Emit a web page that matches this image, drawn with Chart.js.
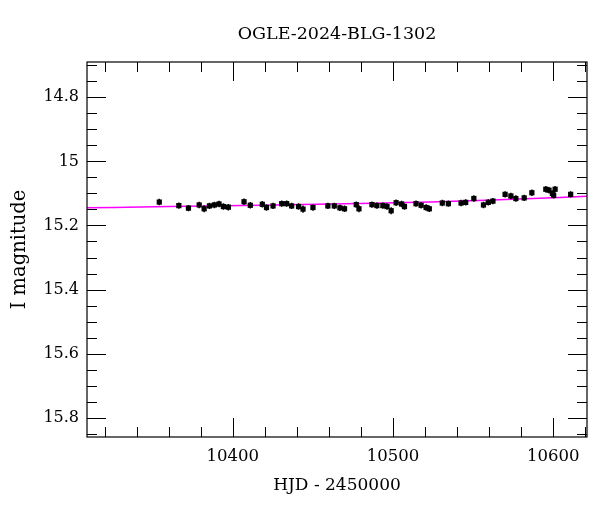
<!DOCTYPE html>
<html>
<head>
<meta charset="utf-8">
<script src="https://cdn.jsdelivr.net/npm/chart.js@4/dist/chart.umd.min.js"></script>
<style>
  html, body { margin: 0; padding: 0; background: #fff; }
  #wrap { width: 600px; height: 512px; }
</style>
</head>
<body>
<div id="wrap"><canvas id="lc"></canvas></div>
<script>
// OGLE light curve, I band
const hjd = [10354.1, 10366.3, 10372.3, 10379.0, 10382.1, 10385.4, 10388.5, 10391.4, 10394.1, 10397.2,
  10407.0, 10410.9, 10418.4, 10421.0, 10425.1, 10430.5, 10433.6, 10436.7, 10441.0, 10443.8,
  10450.0, 10459.3, 10463.3, 10466.8, 10469.7, 10477.0, 10478.7, 10486.8, 10489.9, 10493.6,
  10496.2, 10498.8, 10501.9, 10505.3, 10507.1, 10514.3, 10517.5, 10520.6, 10522.6, 10530.7,
  10534.5, 10542.4, 10545.3, 10550.4, 10556.4, 10559.4, 10562.3, 10569.9, 10573.5, 10576.6,
  10581.8, 10586.6, 10595.3, 10597.3, 10599.4, 10600.2, 10601.1, 10610.8];
const mag = [15.127, 15.138, 15.146, 15.136, 15.148, 15.139, 15.136, 15.133, 15.141, 15.143,
  15.126, 15.137, 15.134, 15.144, 15.139, 15.132, 15.132, 15.139, 15.141, 15.149,
  15.144, 15.139, 15.139, 15.145, 15.148, 15.135, 15.148, 15.135, 15.138, 15.138,
  15.141, 15.154, 15.129, 15.133, 15.141, 15.132, 15.137, 15.144, 15.148, 15.130,
  15.132, 15.130, 15.128, 15.116, 15.136, 15.128, 15.124, 15.103, 15.108, 15.116,
  15.114, 15.098, 15.087, 15.090, 15.100, 15.106, 15.087, 15.103];
const magErr = [0.010, 0.010, 0.010, 0.010, 0.011, 0.010, 0.010, 0.010, 0.010, 0.010,
  0.010, 0.010, 0.010, 0.010, 0.010, 0.010, 0.010, 0.010, 0.010, 0.011,
  0.010, 0.010, 0.010, 0.010, 0.010, 0.010, 0.011, 0.010, 0.010, 0.010,
  0.010, 0.011, 0.010, 0.010, 0.010, 0.010, 0.010, 0.010, 0.010, 0.010,
  0.010, 0.010, 0.010, 0.010, 0.010, 0.010, 0.010, 0.010, 0.010, 0.010,
  0.010, 0.010, 0.010, 0.010, 0.010, 0.010, 0.010, 0.010];

// model curve
const modelHjd = [10309, 10360, 10417, 10470, 10523, 10570, 10621];
const modelMag = [15.145, 15.141, 15.137, 15.132, 15.127, 15.119, 15.109];

const xTicks = [10400, 10500, 10600];
const yTicks = [14.8, 15, 15.2, 15.4, 15.6, 15.8];

const serif = "'DejaVu Serif', serif";

// error bars drawn through the scales
const errorBars = {
  id: 'errorBars',
  afterDatasetsDraw(chart) {
    const { ctx, scales: { x, y } } = chart;
    ctx.save();
    ctx.strokeStyle = '#000';
    ctx.lineWidth = 1.5;
    ctx.beginPath();
    for (let i = 0; i < hjd.length; i++) {
      const px = x.getPixelForValue(hjd[i]);
      ctx.moveTo(px, y.getPixelForValue(mag[i] - magErr[i]));
      ctx.lineTo(px, y.getPixelForValue(mag[i] + magErr[i]));
    }
    ctx.stroke();
    ctx.restore();
  }
};

// box with inward ticks on all four sides
const frame = {
  id: 'frame',
  afterDraw(chart) {
    const { ctx, chartArea: a, scales: { x, y } } = chart;
    ctx.save();
    ctx.strokeStyle = '#000';
    ctx.lineWidth = 1.2;
    ctx.strokeRect(a.left, a.top, a.right - a.left, a.bottom - a.top);
    ctx.lineWidth = 1;
    ctx.beginPath();
    for (let v = 10320; v <= 10620; v += 20) {
      const px = Math.round(x.getPixelForValue(v)) + 0.5;
      const len = v % 100 === 0 ? 19 : 10;
      ctx.moveTo(px, a.bottom); ctx.lineTo(px, a.bottom - len);
      ctx.moveTo(px, a.top); ctx.lineTo(px, a.top + len);
    }
    for (let i = 294; i <= 317; i++) {
      const py = Math.round(y.getPixelForValue(i * 0.05)) + 0.5;
      const len = i % 4 === 0 ? 19 : 10;
      ctx.moveTo(a.left, py); ctx.lineTo(a.left + len, py);
      ctx.moveTo(a.right, py); ctx.lineTo(a.right - len, py);
    }
    ctx.stroke();
    ctx.restore();
  }
};

const pts = hjd.map((t, i) => ({ x: t, y: mag[i] }));
const model = modelHjd.map((t, i) => ({ x: t, y: modelMag[i] }));

new Chart(document.getElementById('lc'), {
  type: 'scatter',
  data: {
    datasets: [
      {
        data: pts,
        pointStyle: 'rect',
        pointRadius: 3.7,
        pointHoverRadius: 3.7,
        backgroundColor: '#000',
        borderColor: '#000',
        borderWidth: 0,
        order: 0
      },
      {
        type: 'line',
        data: model,
        borderColor: '#ff00ff',
        borderWidth: 1.5,
        pointRadius: 0,
        cubicInterpolationMode: 'monotone',
        fill: false,
        order: 1
      }
    ]
  },
  options: {
    responsive: true,
    maintainAspectRatio: false,
    animation: false,
    layout: { padding: { left: 0, right: 13, top: 0, bottom: 0 } },
    scales: {
      x: {
        type: 'linear',
        min: 10309,
        max: 10621,
        grid: { display: false, drawTicks: false },
        border: { display: false },
        afterBuildTicks: s => { s.ticks = xTicks.map(v => ({ value: v })); },
        afterFit: s => { s.height = 75; },
        ticks: {
          color: '#000',
          padding: 10,
          maxRotation: 0,
          font: { family: serif, size: 16.5 },
          callback: v => String(v)
        },
        title: {
          display: true,
          text: 'HJD - 2450000',
          color: '#000',
          font: { family: serif, size: 17 },
          padding: { top: 0, bottom: 16 }
        }
      },
      y: {
        type: 'linear',
        reverse: true,
        min: 14.69,
        max: 15.86,
        grid: { display: false, drawTicks: false },
        border: { display: false },
        afterBuildTicks: s => { s.ticks = yTicks.map(v => ({ value: v })); },
        afterFit: s => { s.width = 87; },
        ticks: {
          color: '#000',
          padding: 8,
          font: { family: serif, size: 16 },
          callback: v => String(v)
        },
        title: {
          display: true,
          text: 'I magnitude',
          color: '#000',
          font: { family: serif, size: 19.5 },
          padding: { top: 8, bottom: 0 }
        }
      }
    },
    plugins: {
      legend: { display: false },
      tooltip: { enabled: false },
      title: {
        display: true,
        fullSize: false,
        text: 'OGLE-2024-BLG-1302',
        color: '#000',
        font: { family: serif, size: 17.5, weight: 'normal' },
        padding: { top: 24, bottom: 17 }
      }
    }
  },
  plugins: [errorBars, frame]
});
</script>
</body>
</html>
